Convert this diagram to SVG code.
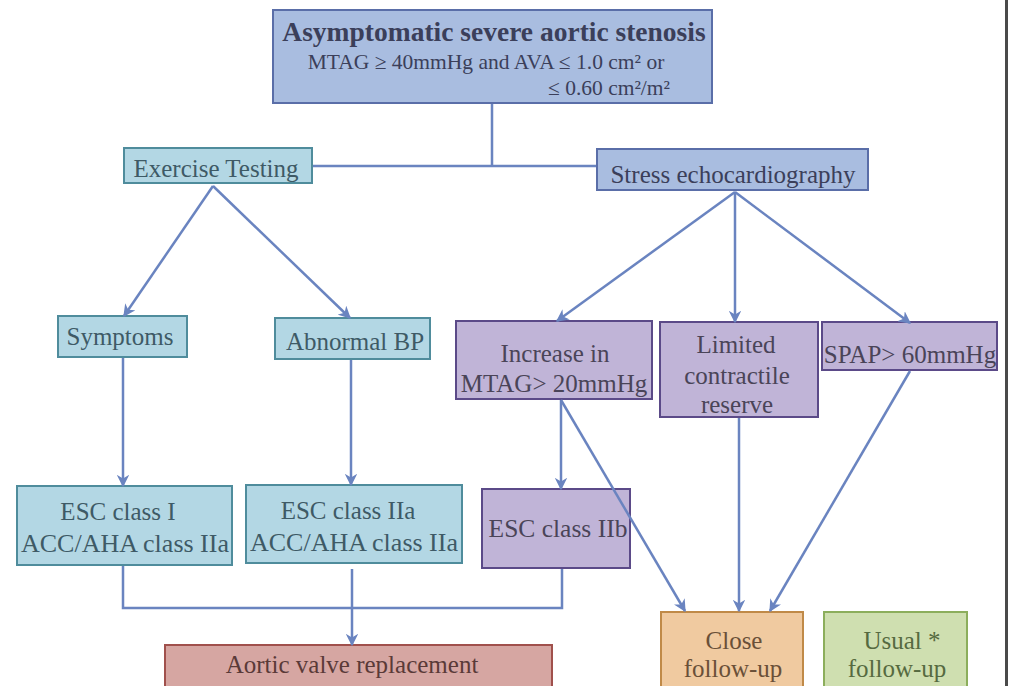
<svg xmlns="http://www.w3.org/2000/svg" width="1010" height="686" viewBox="0 0 1010 686">
<defs>
<marker id="ah" viewBox="0 0 10 10" refX="9" refY="5" markerWidth="5" markerHeight="5" orient="auto" markerUnits="strokeWidth">
<path d="M0,0 L10,5 L0,10 L3,5 Z" fill="#6a84c0"/>
</marker>
<style>
text{font-family:"Liberation Serif","Times New Roman",serif;text-anchor:middle;font-size:25px}
.bl rect{fill:#b3d7e4;stroke:#4f8c9c;stroke-width:2}
.bl text{fill:#3e5a66}
.pu rect{fill:#c0b4d7;stroke:#5b4a88;stroke-width:2}
.pu text{fill:#4a4458}
.nv rect{fill:#a9bde0;stroke:#5a6ea8;stroke-width:2}
.nv text{fill:#3b3f5a}
.c{fill:none;stroke:#6a84c0;stroke-width:2.5}
.a{marker-end:url(#ah)}
</style>
</defs>
<rect width="1010" height="686" fill="#ffffff"/>
<rect x="1005" y="0" width="3" height="686" fill="#4a4a4a"/>

<g id="n-top" class="nv">
<rect x="273" y="10" width="439" height="93"/>
<text x="494" y="41" style="font-size:27.5px" font-weight="bold">Asymptomatic severe aortic stenosis</text>
<text x="486" y="69" style="font-size:21.5px">MTAG ≥ 40mmHg and AVA ≤ 1.0 cm² or</text>
<text x="609" y="95" style="font-size:21.5px">≤ 0.60 cm²/m²</text>
</g>

<g id="n-exercise" class="bl">
<rect x="124" y="148" width="188" height="35"/>
<text x="216" y="177">Exercise Testing</text>
</g>

<g id="n-stress" class="nv">
<rect x="597" y="149" width="271" height="41"/>
<text x="733" y="183">Stress echocardiography</text>
</g>

<g id="n-symptoms" class="bl">
<rect x="58" y="316" width="129" height="41"/>
<text x="120" y="345">Symptoms</text>
</g>

<g id="n-abnbp" class="bl">
<rect x="275" y="318" width="155" height="41"/>
<text x="355" y="350">Abnormal BP</text>
</g>

<g id="n-mtag" class="pu">
<rect x="456" y="321" width="196" height="78"/>
<text x="555" y="362">Increase in</text>
<text x="554" y="392">MTAG&gt; 20mmHg</text>
</g>

<g id="n-limited" class="pu">
<rect x="660" y="322" width="158" height="95"/>
<text x="736" y="353">Limited</text>
<text x="737" y="384">contractile</text>
<text x="737" y="413">reserve</text>
</g>

<g id="n-spap" class="pu">
<rect x="822" y="322" width="175" height="48"/>
<text x="910" y="363">SPAP&gt; 60mmHg</text>
</g>

<g id="n-esc1" class="bl">
<rect x="17" y="486" width="215" height="79"/>
<text x="118" y="520">ESC class I</text>
<text x="125" y="552" style="font-size:26px">ACC/AHA class IIa</text>
</g>

<g id="n-esc2a" class="bl">
<rect x="246" y="485" width="216" height="78"/>
<text x="348" y="519">ESC class IIa</text>
<text x="354" y="551" style="font-size:26px">ACC/AHA class IIa</text>
</g>

<g id="n-esc2b" class="pu">
<rect x="482" y="489" width="148" height="79" fill="#bba9d4"/>
<text x="558" y="537" style="font-size:25.5px">ESC class IIb</text>
</g>

<g id="n-avr">
<rect x="165" y="645" width="387" height="50" fill="#d6a6a2" stroke="#a0504c" stroke-width="2"/>
<text x="352" y="673" fill="#5a3a38">Aortic valve replacement</text>
</g>

<g id="n-close">
<rect x="661" y="612" width="142" height="80" fill="#f0caa0" stroke="#c08a48" stroke-width="2"/>
<text x="734" y="649" fill="#6a5038">Close</text>
<text x="733" y="677" fill="#6a5038">follow-up</text>
</g>

<g id="n-usual">
<rect x="824" y="612" width="143" height="80" fill="#cfdfb0" stroke="#8cae5c" stroke-width="2"/>
<text x="902" y="649" fill="#566a40">Usual *</text>
<text x="897" y="677" fill="#566a40">follow-up</text>
</g>

<g id="connectors">
<path class="c" d="M492,104 V166 M313,166 H596"/>
<path class="c a" d="M213,186 L124,316"/>
<path class="c a" d="M213,186 L350,318"/>
<path class="c a" d="M735,192 L557,321"/>
<path class="c a" d="M735,192 V322"/>
<path class="c a" d="M735,192 L910,323"/>
<path class="c a" d="M123,358 V486"/>
<path class="c a" d="M351,360 V485"/>
<path class="c a" d="M561,400 V489"/>
<path class="c a" d="M561,400 L685,611"/>
<path class="c a" d="M739,418 V611"/>
<path class="c a" d="M910,371 L770,611"/>
<path class="c" d="M123,566 V608 H562 V569"/>
<path class="c a" d="M352,569 V645"/>
</g>
</svg>
